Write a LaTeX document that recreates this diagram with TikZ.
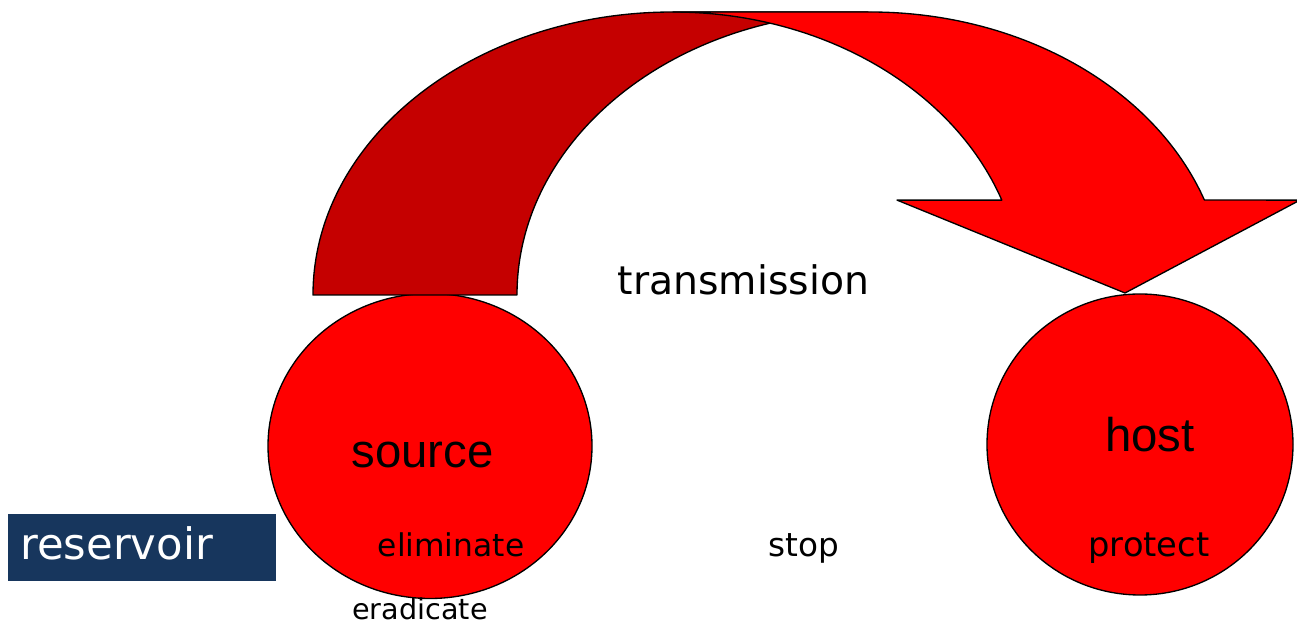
\documentclass[tikz,border=0pt]{standalone}
\usepackage{fontspec}
\usetikzlibrary{shapes.geometric}
\newfontfamily\arialf{Liberation Sans}
\newfontfamily\comicf{DejaVu Sans}
\definecolor{brightred}{HTML}{FF0000}
\definecolor{darkred}{HTML}{C50000}
\definecolor{navybox}{HTML}{17365D}
\begin{document}
\begin{tikzpicture}[x=0.75pt,y=0.75pt,
  blob/.style={ellipse, draw=black, line width=1pt, fill=brightred, inner sep=0pt},
  bandshape/.style={draw=black, line width=1pt, line join=round},
  bigword/.style={font=\arialf\fontsize{35.5}{40}\selectfont, anchor=base, inner sep=0pt},
  handword/.style={font=\comicf\fontsize{#1}{#1}\selectfont, anchor=base, inner sep=0pt}]
\clip (0,0) rectangle (1297,628);
\fill[white] (0,0) rectangle (1297,628);
% circles
\node[blob, minimum width=243pt, minimum height=228.75pt] (src) at (430,182) {};
\node[blob, minimum width=229.5pt, minimum height=225.75pt] (hst) at (1140,183.5) {};
% curved arrow: back (dark) band
\draw[bandshape, fill=darkred] (313,333)
  arc[start angle=180, end angle=90, x radius=360, y radius=283]
  -- (868,616)
  arc[start angle=90, end angle=180, x radius=351, y radius=283]
  -- cycle;
% front (bright) band with head
\draw[bandshape, fill=brightred] (1001.8,427.9)
  arc[start angle=19.6, end angle=90, x radius=349, y radius=283]
  -- (870,616)
  arc[start angle=90, end angle=19.6, x radius=355, y radius=283]
  -- (1300,427.9) -- (1125,335) -- (897,427.9) -- cycle;
% reservoir box
\node[fill=navybox, minimum width=201pt, minimum height=50.25pt, inner sep=0pt] (resbox) at (142,80.5) {};
\node[handword=32.5, text=white, anchor=base west] (res) at (20,68) {reservoir};
% texts
\node[handword=29.5] (trans) at (743.5,333) {transmission};
\node[bigword] (srct) at (422.5,160) {source};
\node[bigword] (hstt) at (1150,176) {host};
\node[handword=23.5] (elim) at (451,71) {eliminate};
\node[handword=21.5] (erad) at (420,8) {eradicate};
\node[handword=24.5] (stop) at (804,71) {stop};
\node[handword=25.3] (prot) at (1149,71) {protect};
\end{tikzpicture}
\end{document}
